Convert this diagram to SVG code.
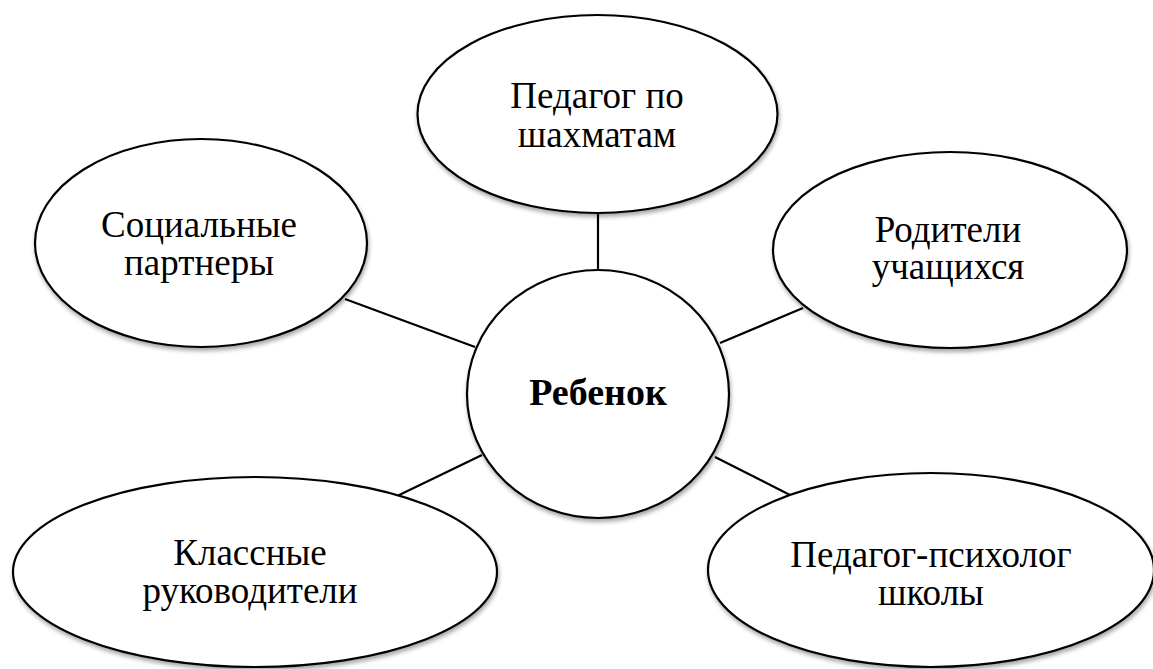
<svg xmlns="http://www.w3.org/2000/svg" width="1153" height="669" viewBox="0 0 1153 669">
<style>
.node{fill:#fff;stroke:#000;stroke-width:2.2;filter:url(#sh)}
.conn line{stroke:#000;stroke-width:2.2}
.t{font-family:'Liberation Serif','Times New Roman',serif;font-size:37px;fill:#000;text-anchor:middle}
.b{font-weight:bold;font-size:38px}
</style>
<defs>
<filter id="sh" x="-10%" y="-10%" width="120%" height="125%">
<feDropShadow dx="1" dy="3" stdDeviation="2" flood-color="#000" flood-opacity="0.35"/>
</filter>
</defs>
<rect width="1153" height="669" fill="#fff"/>
<g id="connectors" class="conn">
<line x1="598" y1="213" x2="598" y2="271"/>
<line x1="345" y1="299" x2="475" y2="347"/>
<line x1="803" y1="308" x2="720" y2="343"/>
<line x1="393" y1="498" x2="482" y2="455"/>
<line x1="790" y1="495" x2="715" y2="457"/>
</g>
<g id="n-top">
<ellipse class="node" cx="597.5" cy="114" rx="180" ry="99"/>
<text class="t" x="597" y="108">Педагог по</text>
<text class="t" x="597" y="147">шахматам</text>
</g>
<g id="n-left">
<ellipse class="node" cx="201" cy="243" rx="166" ry="104"/>
<text class="t" x="199" y="237">Социальные</text>
<text class="t" x="199" y="275">партнеры</text>
</g>
<g id="n-right">
<ellipse class="node" cx="950" cy="250" rx="177" ry="98"/>
<text class="t" x="948" y="242">Родители</text>
<text class="t" x="948" y="279">учащихся</text>
</g>
<g id="n-bl">
<ellipse class="node" cx="255" cy="572" rx="242" ry="95"/>
<text class="t" x="250" y="565">Классные</text>
<text class="t" x="250" y="603">руководители</text>
</g>
<g id="n-br">
<ellipse class="node" cx="931" cy="570" rx="223" ry="97"/>
<text class="t" x="931" y="567">Педагог-психолог</text>
<text class="t" x="931" y="605">школы</text>
</g>
<g id="n-center">
<ellipse class="node" cx="598" cy="394" rx="131" ry="124"/>
<text class="t b" x="598" y="405">Ребенок</text>
</g>
</svg>
